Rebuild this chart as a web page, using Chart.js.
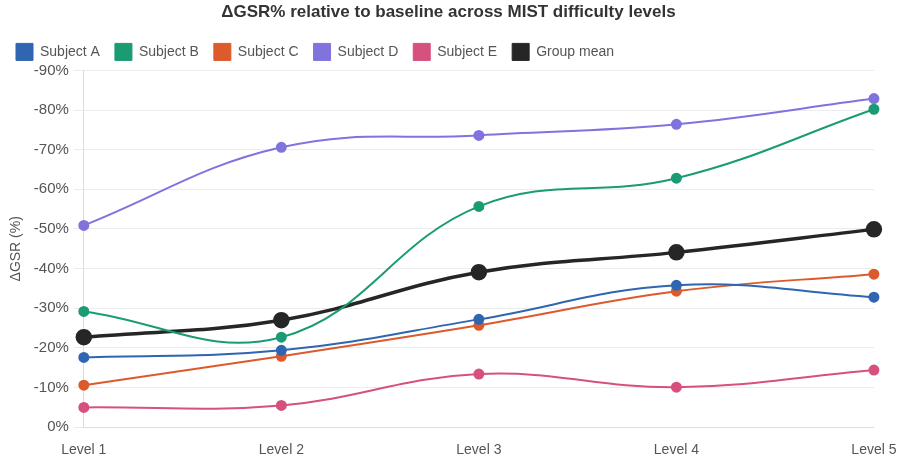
<!DOCTYPE html>
<html>
<head>
<meta charset="utf-8">
<script src="https://cdn.jsdelivr.net/npm/chart.js@4/dist/chart.umd.min.js"></script>
<style>
html,body{margin:0;padding:0;background:#fff;}
#wrap{width:900px;height:462px;position:relative;}
</style>
</head>
<body>
<div id="wrap"><canvas id="c"></canvas></div>
<script>
const levels = ["Level 1", "Level 2", "Level 3", "Level 4", "Level 5"];
const subjectA = [-17.6, -19.4, -27.2, -35.8, -32.8];
const subjectB = [-29.2, -22.7, -55.7, -62.8, -80.2];
const subjectC = [-10.6, -17.9, -25.7, -34.3, -38.6];
const subjectD = [-50.9, -70.6, -73.6, -76.4, -82.9];
const subjectE = [-5.0, -5.5, -13.4, -10.1, -14.4];
const groupMean = [-22.7, -27.0, -39.1, -44.1, -49.9];

function ds(label, data, color, mean) {
  return {
    label: label,
    data: data,
    borderColor: color,
    backgroundColor: color,
    pointBackgroundColor: color,
    pointBorderColor: color,
    borderWidth: mean ? 3.5 : 2,
    pointRadius: mean ? 6.5 : 4.5,
    pointHoverRadius: mean ? 8 : 6,
    tension: 0.4,
    fill: false
  };
}

Chart.defaults.font.family = "'Liberation Sans', Arial, Helvetica, sans-serif";
Chart.defaults.color = "#555";

new Chart(document.getElementById('c'), {
  type: 'line',
  data: {
    labels: levels,
    datasets: [
      ds("Subject A", subjectA, "#2f65b1", false),
      ds("Subject B", subjectB, "#1a9b74", false),
      ds("Subject C", subjectC, "#dc5a2b", false),
      ds("Subject D", subjectD, "#8073dd", false),
      ds("Subject E", subjectE, "#d6517d", false),
      ds("Group mean", groupMean, "#262626", true)
    ]
  },
  options: {
    responsive: true,
    maintainAspectRatio: false,
    animation: false,
    layout: { padding: { left: 1, right: 4, top: 0, bottom: 0 } },
    plugins: {
      title: {
        display: true,
        text: "ΔGSR% relative to baseline across MIST difficulty levels",
        color: "#333",
        font: { size: 17, weight: 'bold' },
        padding: { top: 2, bottom: 6 }
      },
      legend: {
        position: 'top',
        align: 'start',
        labels: {
          boxWidth: 17,
          boxHeight: 17,
          color: "#555",
          font: { size: 14 },
          padding: 15,
          generateLabels(chart) {
            const items = Chart.defaults.plugins.legend.labels.generateLabels(chart);
            items.forEach(it => { it.lineWidth = 1; });
            return items;
          }
        }
      },
      tooltip: { enabled: false }
    },
    scales: {
      x: {
        grid: { display: true, drawOnChartArea: false, drawTicks: true, tickLength: 11, tickColor: "rgba(0,0,0,0)" },
        border: { display: true, color: "#ddd" },
        ticks: { color: "#555", font: { size: 14 }, padding: 3.5 }
      },
      y: {
        reverse: true,
        min: -90,
        max: 0,
        grid: { color: "#ececec", drawTicks: true, tickLength: 10, tickColor: "#ececec" },
        border: { display: true, color: "#ddd" },
        ticks: {
          stepSize: 10,
          color: "#555",
          font: { size: 15 },
          padding: 5,
          callback: v => v + "%"
        },
        title: {
          display: true,
          text: "ΔGSR (%)",
          color: "#555",
          font: { size: 14 },
          padding: { top: 6.5, bottom: 4.5 }
        }
      }
    }
  }
});
</script>
</body>
</html>
